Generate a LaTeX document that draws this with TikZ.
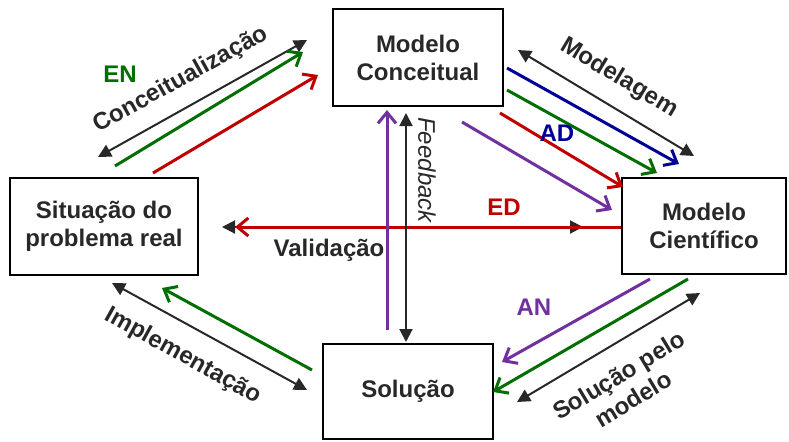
\documentclass[tikz,border=0pt]{standalone}
\usepackage{fontspec}
\setmainfont{Liberation Sans}
\usetikzlibrary{arrows.meta}
\definecolor{cred}{RGB}{192,0,0}
\definecolor{cgreen}{RGB}{0,110,0}
\definecolor{cblue}{RGB}{0,0,150}
\definecolor{cpurple}{RGB}{112,48,160}
\definecolor{cgray}{RGB}{40,40,40}
\tikzset{
  box/.style={draw=black, line width=1pt, align=center, inner sep=0pt,
    font=\bfseries\fontsize{12}{14}\selectfont, text=cgray},
  lbl/.style={font=\bfseries\fontsize{12}{14}\selectfont, text=cgray, inner sep=0pt, align=center},
  both/.style={cgray, line width=1pt,
    {Triangle[length=6.5pt,width=6.5pt]}-{Triangle[length=6.5pt,width=6.5pt]}},
  single/.style={line width=1.5pt, -{Straight Barb[length=5.5pt,width=9pt]}}
}
\begin{document}
\begin{tikzpicture}[x=0.5pt,y=-0.5pt]
                \useasboundingbox (0,0) rectangle (789,441);

                \node[box, minimum width=85pt, minimum height=48.5pt] (conc) at (418,57.5) {Modelo\\Conceitual};
                \node[box, minimum width=94pt, minimum height=48.5pt] (sit) at (104,226.5) {Situação do\\problema real};
                \node[box, minimum width=82pt, minimum height=48pt] (cien) at (704,226) {Modelo\\Científico};
                \node[box, minimum width=85pt, minimum height=47.5pt] (sol) at (408,391.5) {Solução};

                \coordinate (cs1) at (98,157);   \coordinate (cs2) at (307,40);
                \coordinate (cs3) at (115,166);  \coordinate (cs4) at (303,52);
                \coordinate (cs5) at (153,173);  \coordinate (cs6) at (318,75);

                \coordinate (cc1) at (518,50);   \coordinate (cc2) at (694,156);
                \coordinate (cc3) at (507,68);   \coordinate (cc4) at (679,164);
                \coordinate (cc5) at (507,90);   \coordinate (cc6) at (657,173);
                \coordinate (cc7) at (500,113);  \coordinate (cc8) at (623,187);
                \coordinate (cc9) at (462,122);  \coordinate (cc10) at (612,210);

                \coordinate (h1) at (222,227);   \coordinate (h2) at (583,227);
                \coordinate (h3) at (235,227);

                \coordinate (v1) at (387,330);   \coordinate (v2) at (387,110);
                \coordinate (v3) at (406,113);   \coordinate (v4) at (406,342);

                \coordinate (ss1) at (112,283);  \coordinate (ss2) at (307,390);
                \coordinate (ss3) at (312,370);  \coordinate (ss4) at (162,288);

                \coordinate (sc1) at (650,279);  \coordinate (sc2) at (502,362);
                \coordinate (sc3) at (688,279);  \coordinate (sc4) at (493,392);
                \coordinate (sc5) at (700,293);  \coordinate (sc6) at (517,402);

                \draw [both] (cs1) -- (cs2);
                \draw [single, cgreen] (cs3) -- (cs4);
                \draw [single, cred] (cs5) -- (cs6);

                \draw [both] (cc1) -- (cc2);
                \draw [single, cblue] (cc3) -- (cc4);
                \draw [single, cgreen] (cc5) -- (cc6);
                \draw [single, cred] (cc7) -- (cc8);
                \draw [single, cpurple] (cc9) -- (cc10);

                \draw [both] (h1) -- (h2);
                \draw [single, cred] (cien.west |- h3) -- (h3);

                \draw [single, cpurple] (v1) -- (v2);
                \draw [both] (v3) -- (v4);

                \draw [both] (ss1) -- (ss2);
                \draw [single, cgreen] (ss3) -- (ss4);

                \draw [single, cpurple] (sc1) -- (sc2);
                \draw [single, cgreen] (sc3) -- (sc4);
                \draw [both] (sc5) -- (sc6);

                \node[lbl, text=cgreen] (en) at (120,74) {EN};
                \node[lbl, rotate=29] (lconc) at (181,80) {Conceitualização};
                \node[lbl, rotate=-31] (lmod) at (619,78) {Modelagem};
                \node[lbl, text=cblue] (ad) at (557,133) {AD};
                \node[lbl, text=cred] (ed) at (504,207) {ED};
                \node[lbl] (lval) at (329,250) {Validação};
                \node[lbl, font=\itshape\fontsize{12}{14}\selectfont, rotate=-90] (lfeed) at (427,170) {Feedback};
                \node[lbl, rotate=-29] (limp) at (183,356) {Implementação};
                \node[lbl, text=cpurple] (an) at (534,307) {AN};
                \node[lbl, rotate=31] (lsol) at (626,387) {Solução pelo\\modelo};
            \end{tikzpicture}
\end{document}
